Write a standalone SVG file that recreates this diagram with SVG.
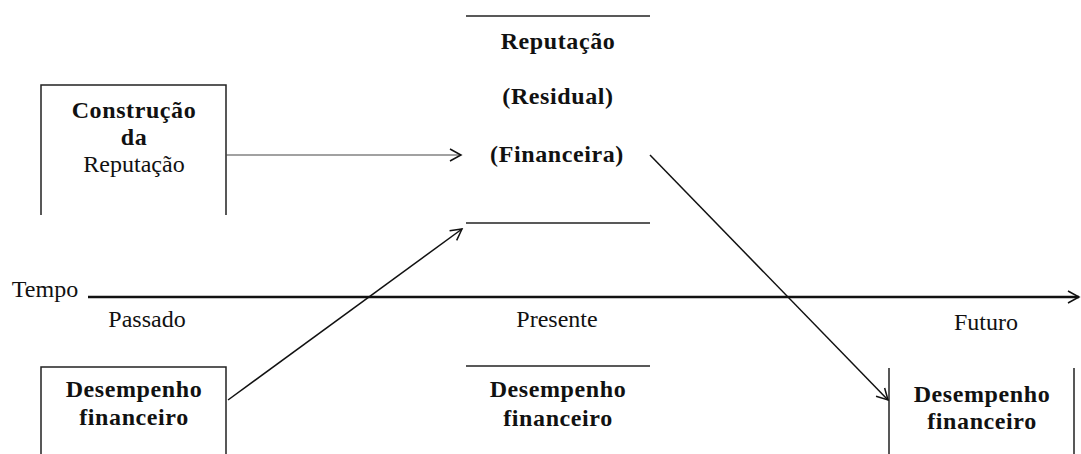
<svg xmlns="http://www.w3.org/2000/svg" width="1081" height="454" viewBox="0 0 1081 454">
<defs>
<marker id="open" markerWidth="14" markerHeight="14" refX="12" refY="7" orient="auto" markerUnits="userSpaceOnUse">
<path d="M1,1 L12,7 L1,13" fill="none" stroke="#111" stroke-width="1.5"/>
</marker>
</defs>
<style>
.t{font-family:"Liberation Serif","Times New Roman",serif;font-size:24px;fill:#111;text-anchor:middle}
.b{font-weight:bold;letter-spacing:0.6px}
.ln{stroke:#222;stroke-width:1.5;fill:none}
</style>
<rect width="1081" height="454" fill="#fff"/>
<g id="construcao">
<path class="ln" d="M41,215 V85 H226 V215"/>
<text class="t b" x="134" y="118">Construção</text>
<text class="t b" x="134" y="145">da</text>
<text class="t" x="134" y="172">Reputação</text>
</g>
<g id="reputacao">
<line class="ln" x1="466" y1="16" x2="650" y2="16"/>
<line class="ln" x1="466" y1="223" x2="650" y2="223"/>
<text class="t b" x="558" y="49">Reputação</text>
<text class="t b" x="558" y="104">(Residual)</text>
<text class="t b" x="557" y="162">(Financeira)</text>
</g>
<g id="tempo">
<text class="t" x="45" y="297">Tempo</text>
<text class="t" x="147" y="327">Passado</text>
<text class="t" x="557" y="327">Presente</text>
<text class="t" x="986" y="330">Futuro</text>
</g>
<g id="desempenho-passado">
<path class="ln" d="M41,454 V367 H226 V454"/>
<text class="t b" x="134" y="397">Desempenho</text>
<text class="t b" x="134" y="425">financeiro</text>
</g>
<g id="desempenho-presente">
<line class="ln" x1="466" y1="366" x2="650" y2="366"/>
<text class="t b" x="558" y="397">Desempenho</text>
<text class="t b" x="558" y="426">financeiro</text>
</g>
<g id="desempenho-futuro">
<path class="ln" d="M889,368 V454 M1074,368 V454"/>
<text class="t b" x="982" y="402">Desempenho</text>
<text class="t b" x="982" y="429">financeiro</text>
</g>
<g id="connectors">
<line x1="88" y1="297" x2="1079" y2="297" stroke="#111" stroke-width="2.5" marker-end="url(#open)"/>
<line x1="226" y1="155" x2="461" y2="155" stroke="#444" stroke-width="1.2" marker-end="url(#open)"/>
<line x1="228" y1="400" x2="462" y2="229" stroke="#111" stroke-width="1.5" marker-end="url(#open)"/>
<line x1="650" y1="155" x2="888" y2="400" stroke="#111" stroke-width="1.5" marker-end="url(#open)"/>
</g>
</svg>
